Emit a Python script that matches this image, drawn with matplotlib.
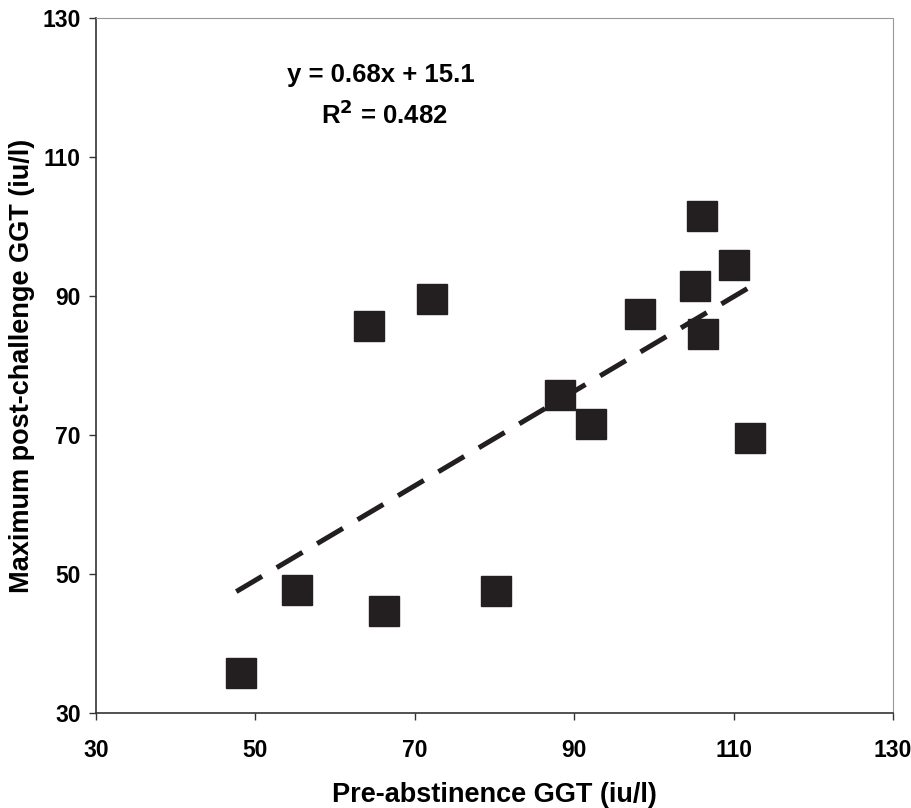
import matplotlib
matplotlib.use("Agg")
import matplotlib.pyplot as plt
import numpy as np

plt.rcParams['font.family'] = ['Liberation Sans', 'DejaVu Sans']
plt.rcParams['font.weight'] = 'bold'

pre_ggt = [48.2, 55.2, 66.1, 64.2, 72.2, 80.2, 88.2, 92.1, 98.2, 105.2, 106.1, 106.0, 110.1, 112.1]
post_ggt = [35.8, 47.7, 44.7, 85.7, 89.6, 47.6, 75.7, 71.6, 87.4, 91.5, 84.5, 101.5, 94.4, 69.5]
slope = 0.68
intercept = 15.1
r2 = 0.482
ticks = [30, 50, 70, 90, 110, 130]

fig = plt.figure(figsize=(9.12, 8.08), dpi=100)
ax = fig.add_axes([96/912, 1-713/808, (893-96)/912, (713-18)/808])

col = '#231f20'
xl = np.array([min(pre_ggt) - 0.6, max(pre_ggt) + 0.2])
ax.plot(xl, slope*xl + intercept, color=col, lw=3.6, dashes=(6, 3.4),
        solid_capstyle='butt', dash_capstyle='butt', zorder=2)
ax.plot(pre_ggt, post_ggt, 's', ms=21, color=col, mec=col, zorder=3)

ax.set_xlim(30, 130)
ax.set_ylim(30, 130)
ax.set_xticks(ticks)
ax.set_yticks(ticks)
ax.tick_params(direction='out', length=5, width=1.0, colors='#333333',
               labelsize=16.5, pad=6)
for lab in ax.get_xticklabels() + ax.get_yticklabels():
    lab.set_fontweight('bold')
    lab.set_color('black')
ax.tick_params(axis='x', pad=14)

for s in ['left', 'bottom']:
    ax.spines[s].set_color('#333333')
    ax.spines[s].set_linewidth(1.2)
for s in ['top', 'right']:
    ax.spines[s].set_color('#999999')
    ax.spines[s].set_linewidth(0.8)
    ax.spines[s].set_linestyle((0, (1, 1)))

ax.set_xlabel('Pre-abstinence GGT (iu/l)', fontsize=19.5, fontweight='bold', labelpad=14)
ax.set_ylabel('Maximum post-challenge GGT (iu/l)', fontsize=19.5, fontweight='bold', labelpad=5)

fig.text(381/912, 1-75/808, f'y = {slope}x + {intercept}', fontsize=18.5,
         fontweight='bold', ha='center', va='center')
fig.text(384/912, 1-115/808, f'R$^2$ = {r2}', fontsize=18.5, fontweight='bold',
         ha='center', va='center')

fig.savefig('out.png', dpi=100)
